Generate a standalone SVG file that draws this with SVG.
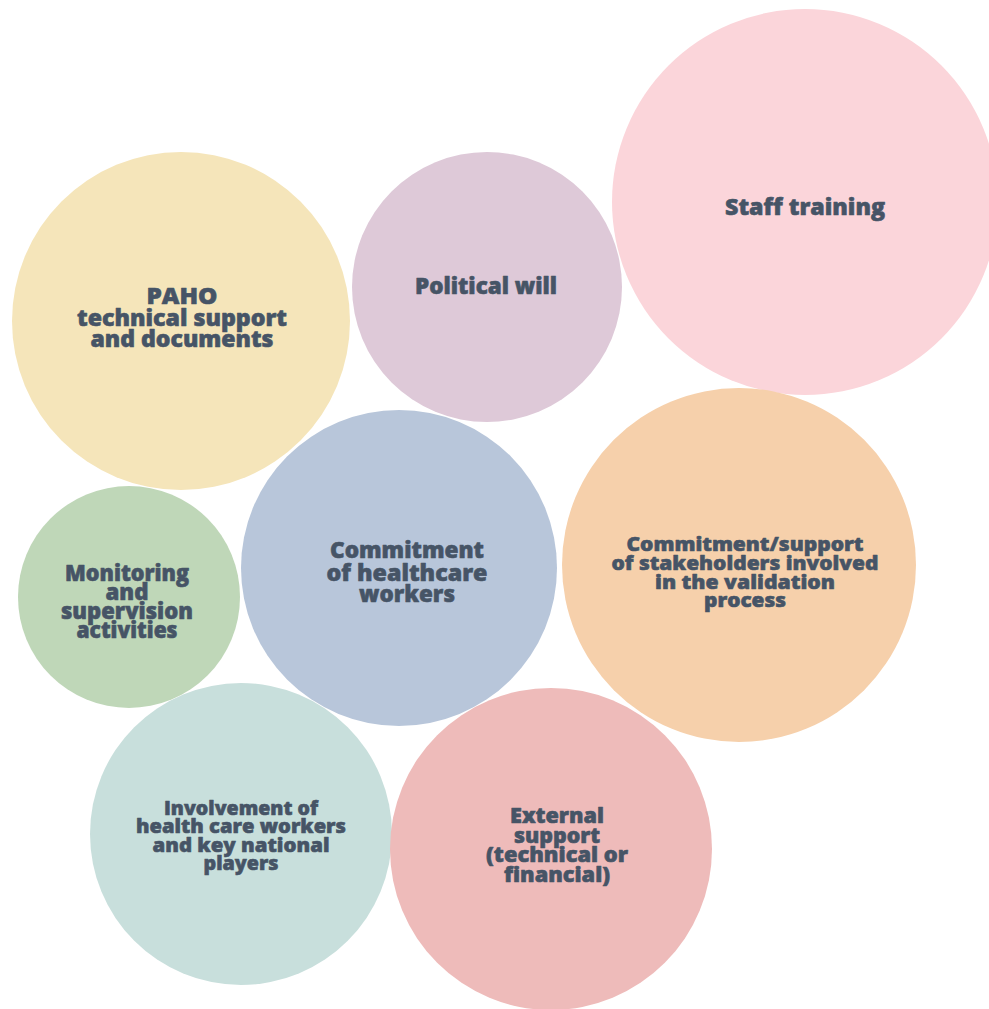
<svg xmlns="http://www.w3.org/2000/svg" width="989" height="1009" viewBox="0 0 989 1009">
  <style>
    .lbl { font-family: "Open Sans", "Noto Sans", sans-serif; font-weight: 800; fill: #465466; stroke: #465466; stroke-width: 0.6px; stroke-linejoin: round; text-anchor: middle; }
    .l23 { font-size: 23px; }
    .l22 { font-size: 22px; }
    .l21 { font-size: 21px; }
    .l20 { font-size: 20px; }
  </style>
  <rect width="989" height="1009" fill="#ffffff"/>

  <g id="staff-training">
    <circle cx="805" cy="202" r="193" fill="#fbd5da"/>
    <text class="lbl l23" x="805" y="215" textLength="160" lengthAdjust="spacingAndGlyphs">Staff training</text>
  </g>

  <g id="political-will">
    <circle cx="487" cy="287" r="135" fill="#dec9d8"/>
    <text class="lbl l23" x="486" y="294" textLength="142" lengthAdjust="spacingAndGlyphs">Political will</text>
  </g>

  <g id="paho">
    <circle cx="181" cy="321" r="169" fill="#f5e5ba"/>
    <text class="lbl l23" x="182" y="304" textLength="71" lengthAdjust="spacingAndGlyphs">PAHO</text>
    <text class="lbl l23" x="182" y="326" textLength="210" lengthAdjust="spacingAndGlyphs">technical support</text>
    <text class="lbl l23" x="182" y="347" textLength="183" lengthAdjust="spacingAndGlyphs">and documents</text>
  </g>

  <g id="commitment-healthcare">
    <circle cx="399" cy="568" r="158" fill="#b8c6da"/>
    <text class="lbl l23" x="407" y="558" textLength="154" lengthAdjust="spacingAndGlyphs">Commitment</text>
    <text class="lbl l23" x="407" y="581" textLength="161" lengthAdjust="spacingAndGlyphs">of healthcare</text>
    <text class="lbl l23" x="407" y="602" textLength="96" lengthAdjust="spacingAndGlyphs">workers</text>
  </g>

  <g id="commitment-stakeholders">
    <circle cx="739" cy="565" r="177" fill="#f6d0ab"/>
    <text class="lbl l20" x="745" y="551" textLength="237" lengthAdjust="spacingAndGlyphs">Commitment/support</text>
    <text class="lbl l20" x="745" y="570" textLength="267" lengthAdjust="spacingAndGlyphs">of stakeholders involved</text>
    <text class="lbl l20" x="745" y="589" textLength="180" lengthAdjust="spacingAndGlyphs">in the validation</text>
    <text class="lbl l20" x="745" y="607" textLength="82" lengthAdjust="spacingAndGlyphs">process</text>
  </g>

  <g id="monitoring">
    <circle cx="129" cy="597" r="111" fill="#bfd7b8"/>
    <text class="lbl l22" x="127" y="581" textLength="124" lengthAdjust="spacingAndGlyphs">Monitoring</text>
    <text class="lbl l22" x="127" y="600" textLength="43" lengthAdjust="spacingAndGlyphs">and</text>
    <text class="lbl l22" x="127" y="619" textLength="132" lengthAdjust="spacingAndGlyphs">supervision</text>
    <text class="lbl l22" x="127" y="638" textLength="101" lengthAdjust="spacingAndGlyphs">activities</text>
  </g>

  <g id="involvement">
    <circle cx="241" cy="834" r="151" fill="#c8dfdc"/>
    <text class="lbl l20" x="241" y="815" textLength="154" lengthAdjust="spacingAndGlyphs">Involvement of</text>
    <text class="lbl l20" x="241" y="833" textLength="210" lengthAdjust="spacingAndGlyphs">health care workers</text>
    <text class="lbl l20" x="241" y="852" textLength="177" lengthAdjust="spacingAndGlyphs">and key national</text>
    <text class="lbl l20" x="241" y="870" textLength="75" lengthAdjust="spacingAndGlyphs">players</text>
  </g>

  <g id="external-support">
    <circle cx="551" cy="849" r="161" fill="#eebbba"/>
    <text class="lbl l21" x="557" y="823" textLength="94" lengthAdjust="spacingAndGlyphs">External</text>
    <text class="lbl l21" x="557" y="843" textLength="86" lengthAdjust="spacingAndGlyphs">support</text>
    <text class="lbl l21" x="557" y="862" textLength="142" lengthAdjust="spacingAndGlyphs">(technical or</text>
    <text class="lbl l21" x="557" y="882" textLength="106" lengthAdjust="spacingAndGlyphs">financial)</text>
  </g>

  <g id="connectors"/>
</svg>
